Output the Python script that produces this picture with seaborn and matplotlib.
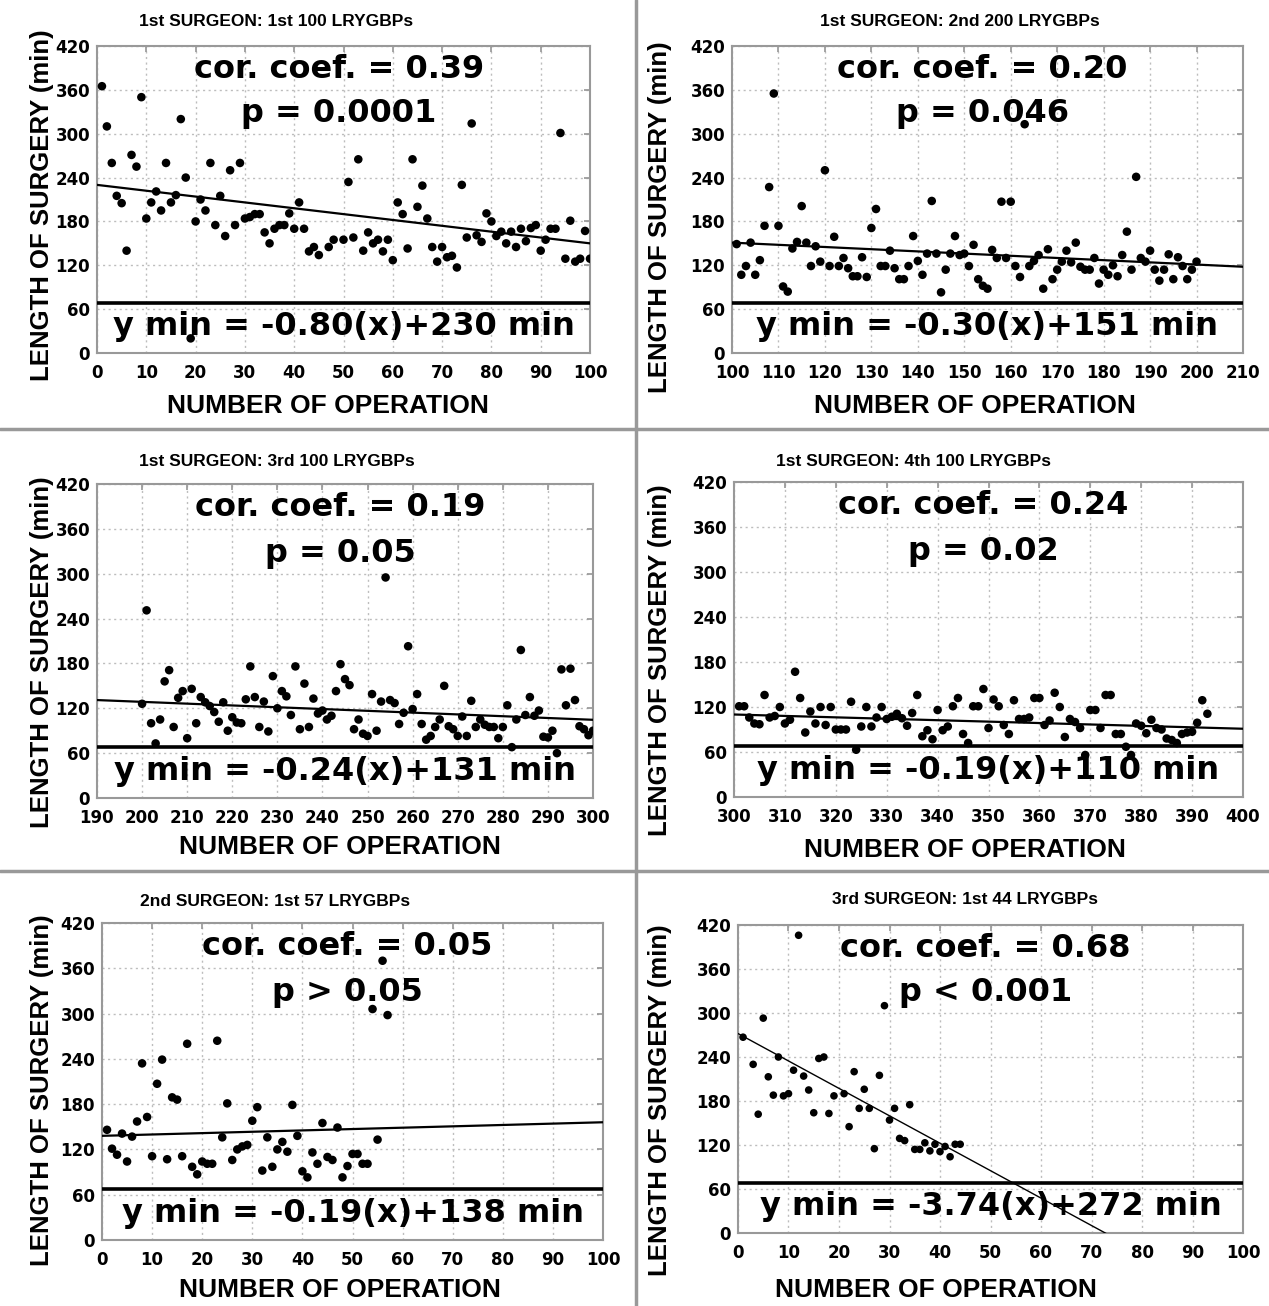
import matplotlib
matplotlib.use("Agg")
import matplotlib.pyplot as plt
from matplotlib.lines import Line2D
import seaborn as sns
import pandas as pd
import numpy as np

# ---- values ----
# 1st surgeon, 1st 100
s1_x = [1, 2, 3, 4, 5, 6, 7, 8, 9, 10, 11, 12, 13, 14, 15, 16, 17, 18, 19, 20,
        21, 22, 23, 24, 25, 26, 27, 28, 29, 30, 31, 32, 33, 34, 35, 36, 37, 38, 39, 40,
        41, 42, 43, 44, 45, 47, 48, 50, 51, 52, 53, 54, 55, 56, 57, 58, 59, 60, 61, 62,
        63, 64, 65, 66, 67, 68, 69, 70, 71, 72, 73, 74, 75, 76, 77, 78, 79, 80, 81, 82,
        83, 84, 85, 86, 87, 88, 89, 90, 91, 92, 93, 94, 95, 96, 97, 98, 99, 100]
s1_y = [365, 310, 260, 215, 205, 140, 271, 255, 350, 184, 206, 221, 195, 260, 206, 216, 320, 240, 20, 180,
        210, 195, 260, 175, 215, 160, 250, 175, 260, 184, 186, 190, 190, 165, 150, 170, 175, 175, 191, 170,
        206, 170, 139, 145, 134, 145, 155, 155, 234, 158, 265, 140, 165, 150, 155, 139, 155, 127, 206, 190,
        143, 265, 200, 229, 184, 145, 125, 145, 131, 133, 117, 230, 158, 314, 161, 152, 191, 180, 160, 166,
        150, 166, 145, 170, 153, 171, 175, 140, 155, 170, 170, 301, 129, 181, 125, 129, 167, 129]

# 1st surgeon, 2nd 100
s2_x = [101, 102, 103, 104, 105, 106, 107, 108, 109, 110, 111, 112, 113, 114, 115, 116, 117, 118, 119, 120,
        121, 122, 123, 124, 125, 126, 127, 128, 129, 130, 131, 132, 133, 134, 135, 136, 137, 138, 139, 140,
        141, 142, 143, 144, 145, 146, 147, 148, 149, 150, 151, 152, 153, 154, 155, 156, 157, 158, 159, 160,
        161, 162, 163, 164, 165, 166, 167, 168, 169, 170, 171, 172, 173, 174, 175, 176, 177, 178, 179, 180,
        181, 182, 183, 184, 185, 186, 187, 188, 189, 190, 191, 192, 193, 194, 195, 196, 197, 198, 199, 200]
s2_y = [149, 107, 119, 151, 107, 127, 174, 227, 355, 174, 91, 84, 143, 152, 201, 151, 119, 146, 125, 250,
        119, 159, 119, 130, 116, 105, 105, 131, 104, 171, 197, 119, 119, 140, 116, 101, 101, 119, 160, 126,
        107, 136, 208, 136, 83, 114, 136, 160, 134, 136, 119, 148, 101, 92, 88, 141, 130, 207, 130, 207,
        119, 104, 313, 119, 126, 134, 88, 142, 101, 114, 125, 140, 124, 151, 118, 114, 114, 130, 95, 114,
        107, 120, 105, 134, 166, 114, 241, 130, 125, 140, 114, 99, 114, 135, 101, 131, 119, 101, 114, 125]

# 1st surgeon, 3rd 100
s3_x = [200, 201, 202, 203, 204, 205, 206, 207, 208, 209, 210, 211, 212, 213, 214, 215, 216, 217, 218, 219,
        220, 221, 222, 223, 224, 225, 226, 227, 228, 229, 230, 231, 232, 233, 234, 235, 236, 237, 238, 239,
        240, 241, 242, 243, 244, 245, 246, 247, 248, 249, 250, 251, 252, 253, 254, 255, 256, 257, 258, 259,
        260, 261, 262, 263, 264, 265, 266, 267, 268, 269, 270, 271, 272, 273, 274, 275, 276, 277, 278, 279,
        280, 281, 282, 283, 284, 285, 286, 287, 288, 289, 290, 291, 292, 293, 294, 295, 296, 297, 298, 299, 300]
s3_y = [126, 251, 100, 73, 105, 156, 171, 95, 134, 143, 80, 146, 100, 135, 128, 123, 115, 102, 128, 90,
        108, 101, 100, 132, 176, 135, 95, 129, 89, 163, 120, 143, 136, 111, 176, 92, 153, 95, 133, 113,
        117, 105, 110, 143, 179, 159, 151, 92, 105, 86, 83, 139, 90, 129, 295, 131, 127, 99, 114, 203,
        119, 139, 99, 78, 83, 95, 105, 150, 96, 92, 83, 109, 83, 130, 95, 105, 98, 95, 95, 80,
        95, 124, 68, 105, 198, 111, 135, 110, 117, 82, 81, 90, 60, 172, 124, 173, 131, 96, 92, 84, 90]

# 1st surgeon, 4th 100
s4_x = [301, 302, 303, 304, 305, 306, 307, 308, 309, 310, 311, 312, 313, 314, 315, 316, 317, 318, 319, 320,
        321, 322, 323, 324, 325, 326, 327, 328, 329, 330, 331, 332, 333, 334, 335, 336, 337, 338, 339, 340,
        341, 342, 343, 344, 345, 346, 347, 348, 349, 350, 351, 352, 353, 354, 355, 356, 357, 358, 359, 360,
        361, 362, 363, 364, 365, 366, 367, 368, 369, 370, 371, 372, 373, 374, 375, 376, 377, 378, 379, 380,
        381, 382, 383, 384, 385, 386, 387, 388, 389, 390, 391, 392, 393]
s4_y = [121, 121, 106, 98, 97, 136, 106, 108, 120, 98, 103, 167, 132, 86, 114, 98, 120, 96, 120, 90,
        90, 90, 127, 63, 94, 120, 94, 106, 120, 104, 107, 111, 105, 95, 112, 136, 81, 89, 77, 116,
        89, 94, 121, 132, 84, 72, 121, 121, 144, 92, 130, 121, 96, 84, 129, 104, 104, 106, 132, 132,
        96, 102, 139, 120, 80, 104, 100, 92, 56, 116, 116, 92, 136, 136, 84, 84, 67, 56, 98, 95,
        85, 103, 92, 90, 78, 76, 72, 84, 86, 87, 99, 129, 111]

# 2nd surgeon, 1st 57
s5_x = [1, 2, 3, 4, 5, 6, 7, 8, 9, 10, 11, 12, 13, 14, 15, 16, 17, 18, 19, 20,
        21, 22, 23, 24, 25, 26, 27, 28, 29, 30, 31, 32, 33, 34, 35, 36, 37, 38, 39, 40,
        41, 42, 43, 44, 45, 46, 47, 48, 49, 50, 51, 52, 53, 54, 55, 56, 57]
s5_y = [146, 121, 113, 141, 104, 137, 157, 234, 163, 111, 207, 239, 107, 189, 186, 111, 260, 97, 87, 104,
        101, 101, 264, 136, 181, 106, 120, 124, 126, 158, 176, 92, 136, 97, 120, 130, 117, 179, 138, 91,
        83, 116, 101, 155, 110, 106, 149, 83, 98, 114, 114, 101, 101, 306, 133, 370, 298]

# 3rd surgeon, 1st 44
s6_x = [1, 3, 4, 5, 6, 7, 8, 9, 10, 11, 12, 13, 14, 15, 16, 17, 18, 19, 21, 22,
        23, 24, 25, 26, 27, 28, 29, 30, 31, 32, 33, 34, 35, 36, 37, 38, 39, 40, 41, 42,
        43, 44]
s6_y = [267, 230, 162, 293, 213, 188, 240, 187, 190, 222, 406, 214, 195, 164, 238, 240, 163, 187, 190, 145,
        220, 170, 196, 170, 115, 215, 310, 154, 170, 129, 126, 175, 114, 114, 123, 112, 121, 111, 118, 104,
        121, 121]

panel_x = [s1_x, s2_x, s3_x, s4_x, s5_x, s6_x]
panel_y = [s1_y, s2_y, s3_y, s4_y, s5_y, s6_y]

titles = ["1st SURGEON: 1st 100 LRYGBPs", "1st SURGEON: 2nd 200 LRYGBPs",
          "1st SURGEON: 3rd 100 LRYGBPs", "1st SURGEON: 4th 100 LRYGBPs",
          "2nd SURGEON: 1st 57 LRYGBPs", "3rd SURGEON: 1st 44 LRYGBPs"]
cor_labels = ["cor. coef. = 0.39", "cor. coef. = 0.20", "cor. coef. = 0.19",
              "cor. coef. = 0.24", "cor. coef. = 0.05", "cor. coef. = 0.68"]
p_labels = ["p = 0.0001", "p = 0.046", "p = 0.05", "p = 0.02", "p > 0.05", "p < 0.001"]
eq_labels = ["y min = -0.80(x)+230 min", "y min = -0.30(x)+151 min",
             "y min = -0.24(x)+131 min", "y min = -0.19(x)+110 min",
             "y min = -0.19(x)+138 min", "y min = -3.74(x)+272 min"]

# fitted lines as drawn (slope per operation, value at left axis end)
fit_slope = [-0.80, -0.30, -0.24, -0.19, 0.18, -3.74]
fit_intercept = [230, 151, 131, 110, 138, 272]
x_limits = [(0, 100), (100, 210), (190, 300), (300, 400), (0, 100), (0, 100)]
y_ticks = [0, 60, 120, 180, 240, 300, 360, 420]
cutoff_min = 68

# ---- layout (pixel boxes of the original composite) ----
W, H = 1269, 1306
axes_px = [(97, 590, 46, 353), (732, 1243, 46, 353),
           (97, 593, 484, 798), (734, 1243, 482, 797),
           (102, 603, 923, 1240), (738, 1243, 925, 1233)]
title_px = [(276, 22), (960, 22), (277, 462), (913, 462), (275, 902), (965, 900)]
xlabel_px = [(328, 406), (975, 406), (340, 847), (965, 850), (340, 1290), (936, 1290)]
ylabel_px = [(42, 205), (660, 217), (42, 652), (660, 660), (42, 1090), (660, 1100)]
line_w = [1.6, 1.6, 1.6, 1.6, 1.6, 1.0]

sns.set_theme(style="white")
plt.rcParams["font.family"] = ["Liberation Sans", "DejaVu Sans"]
plt.rcParams.update({"text.color": "black", "axes.labelcolor": "black",
                     "xtick.color": "black", "ytick.color": "black"})

fig = plt.figure(figsize=(W / 100, H / 100), dpi=100)
fig.patch.set_facecolor("white")


def px_rect(x0, x1, y0, y1):
    return [x0 / W, 1 - y1 / H, (x1 - x0) / W, (y1 - y0) / H]


for i in range(6):
    ax = fig.add_axes(px_rect(*axes_px[i]))
    df = pd.DataFrame({"op": panel_x[i], "minutes": panel_y[i]})
    sns.scatterplot(data=df, x="op", y="minutes", ax=ax, color="black",
                    s=38 if i < 5 else 30, edgecolor="none", zorder=4)

    xl = np.array(x_limits[i], dtype=float)
    fit = fit_intercept[i] + fit_slope[i] * (xl - x_limits[i][0])
    sns.lineplot(x=xl, y=fit, ax=ax, color="black", lw=line_w[i], zorder=3)
    ax.axhline(cutoff_min, color="black", lw=2.6, zorder=3)

    ax.set_xlim(*x_limits[i])
    ax.set_ylim(0, 420)
    ax.set_xticks(np.arange(x_limits[i][0], x_limits[i][1] + 1, 10))
    ax.set_yticks(y_ticks)
    ax.set_xlabel("")
    ax.set_ylabel("")
    ax.grid(True, ls=(0, (1.5, 2.5)), color="#bdbdbd", lw=1)
    ax.tick_params(direction="in", length=4, top=True, right=True,
                   color="#999999", labelsize=12, labelcolor="black")
    ax.tick_params(axis="x", pad=8)
    ax.tick_params(axis="y", pad=5)
    plt.setp(ax.get_xticklabels() + ax.get_yticklabels(),
             fontweight="bold", family="DejaVu Sans")
    for sp in ax.spines.values():
        sp.set_color("#999999")
        sp.set_linewidth(1.5)

    ax.text(0.49, 0.925, cor_labels[i], transform=ax.transAxes, ha="center",
            va="center", fontsize=23, fontweight="bold", family="DejaVu Sans",
            color="black", zorder=2)
    ax.text(0.49, 0.78, p_labels[i], transform=ax.transAxes, ha="center",
            va="center", fontsize=23, fontweight="bold", family="DejaVu Sans",
            color="black", zorder=2)
    ax.text(0.50, 0.085, eq_labels[i], transform=ax.transAxes, ha="center",
            va="center", fontsize=23, fontweight="bold", family="DejaVu Sans",
            color="black", zorder=2)

    tx, ty = title_px[i]
    fig.text(tx / W, 1 - ty / H, titles[i], ha="center", va="center",
             fontsize=12.5, fontweight="bold", color="black")
    lx, ly = xlabel_px[i]
    fig.text(lx / W, 1 - ly / H, "NUMBER OF OPERATION", ha="center", va="center",
             fontsize=19, fontweight="bold", color="black")
    yx, yy = ylabel_px[i]
    fig.text(yx / W, 1 - yy / H, "LENGTH OF SURGERY (min)", ha="center", va="center",
             rotation=90, fontsize=18.5, fontweight="bold", color="black")

# grey frame lines separating the panels
fig.add_artist(Line2D([636 / W, 636 / W], [0, 1], color="#999999", lw=2.5))
for yy in (429, 871):
    fig.add_artist(Line2D([0, 1], [1 - yy / H, 1 - yy / H], color="#999999", lw=2.5))

fig.savefig("out.png", dpi=100)
